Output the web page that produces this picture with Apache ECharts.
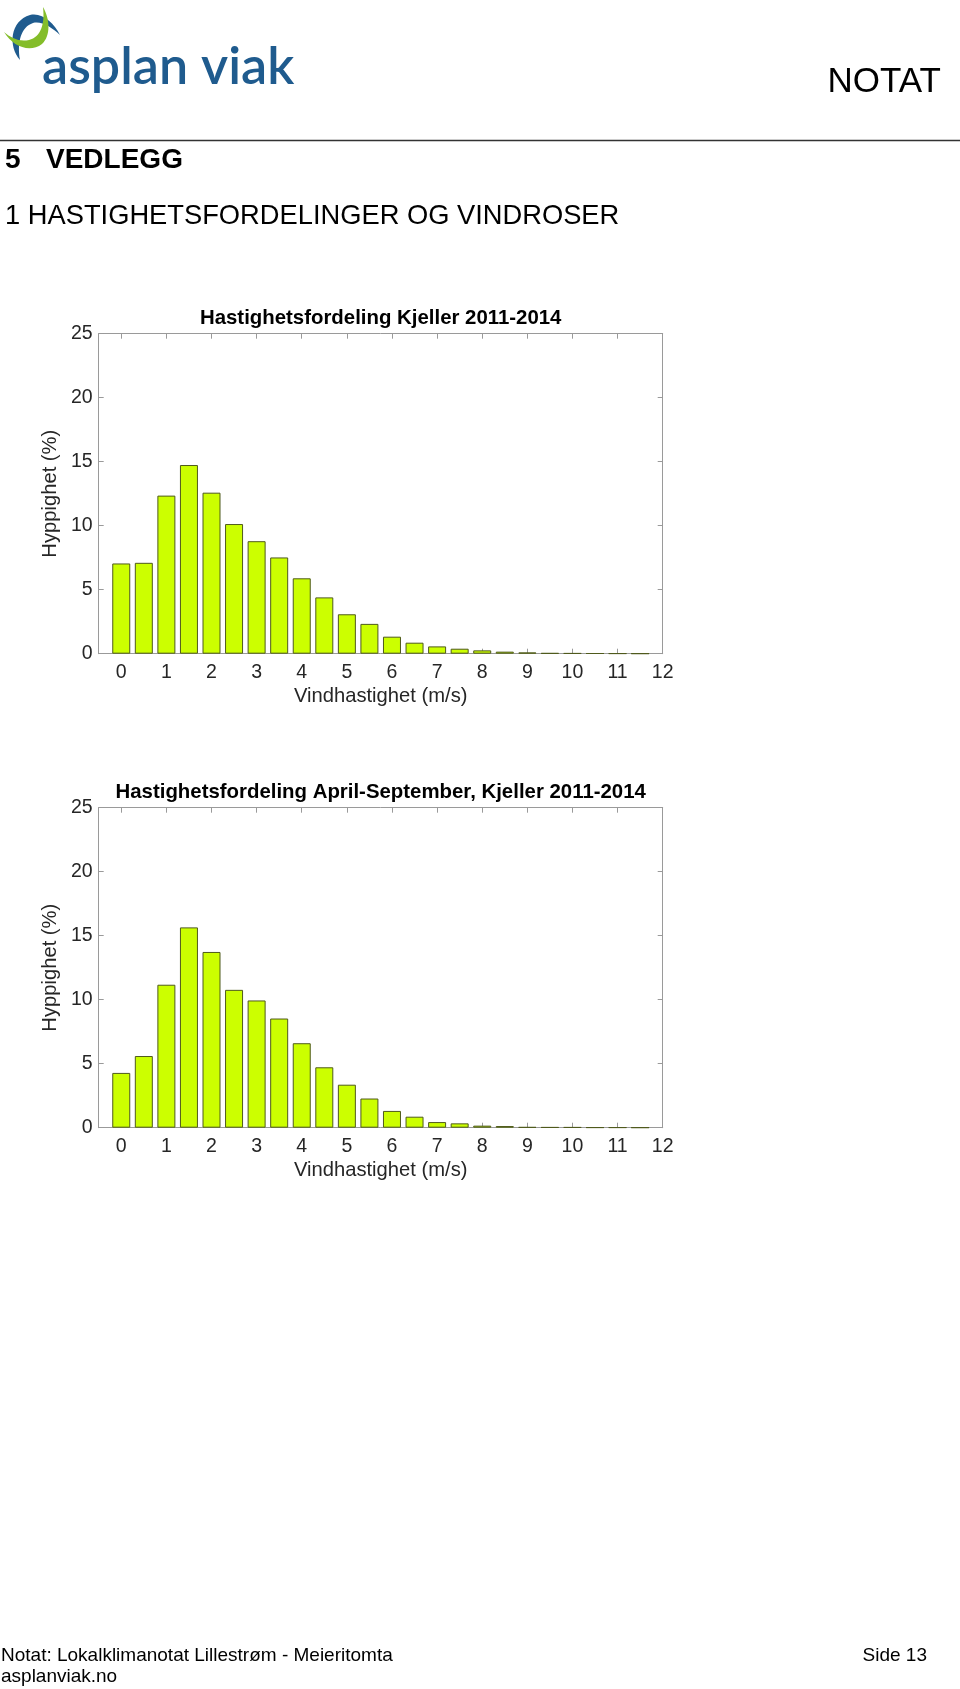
<!DOCTYPE html>
<html>
<head>
<meta charset="utf-8">
<script src="https://cdn.jsdelivr.net/npm/echarts@6/dist/echarts.min.js"></script>
<style>
  html, body { margin: 0; padding: 0; background: #ffffff; }
  #wrap { position: relative; width: 960px; height: 1689px; }
  #page { position: absolute; left: 0; top: 0; width: 960px; height: 1689px; }
  #swoosh { position: absolute; left: 0; top: 0; }
</style>
</head>
<body>
<div id="wrap">
<div id="page"></div>
<svg id="swoosh" width="70" height="70" viewBox="0 0 70 70">
  <path d="M20,60 C8,46 10,21 30,15 C42,12 54,23 60,35 C51,27 42,21 33,23 C21,27 17,42 20,60 Z" fill="#1f5b8e"/>
  <path d="M4,32 C13,47 30,53 42,44 C51,36 50,19 43,7 C45,24 41,37 29,40 C19,42 11,38 4,32 Z" fill="#84bd2a"/>
</svg>
</div>
<script>
// ---- data ----
const speedBins = [0, 0.5, 1, 1.5, 2, 2.5, 3, 3.5, 4, 4.5, 5, 5.5, 6, 6.5, 7, 7.5, 8, 8.5, 9, 9.5, 10, 10.5, 11, 11.5];
const freqAll = [7.05, 7.1, 12.35, 14.74, 12.58, 10.13, 8.79, 7.52, 5.89, 4.40, 3.08, 2.33, 1.33, 0.86, 0.57, 0.39, 0.26, 0.16, 0.10, 0.05, 0.04, 0.03, 0.02, 0.01];
const freqSummer = [4.28, 5.6, 11.17, 15.65, 13.73, 10.77, 9.94, 8.53, 6.6, 4.72, 3.36, 2.28, 1.31, 0.86, 0.44, 0.34, 0.16, 0.13, 0.05, 0.04, 0.04, 0.02, 0.02, 0.01];
const xTicks = [0, 1, 2, 3, 4, 5, 6, 7, 8, 9, 10, 11, 12];
const title1 = 'Hastighetsfordeling Kjeller 2011-2014';
const title2 = 'Hastighetsfordeling April-September, Kjeller 2011-2014';
const xName = 'Vindhastighet (m/s)';
const yName = 'Hyppighet (%)';

// ---- layout ----
const FONT = '"Liberation Sans", Arial, Helvetica, sans-serif';
const plotLeft = 98.7, plotW = 564, plotH = 320;
const plotTops = [333.7, 807.7];
const axisGray = '#9a9a9a';
const labelCol = '#262626';

const chart = echarts.init(document.getElementById('page'), null, { renderer: 'canvas', width: 960, height: 1689 });

const grids = [], xAxes = [], yAxes = [], series = [];
[freqAll, freqSummer].forEach((vals, i) => {
  grids.push({ left: plotLeft, top: plotTops[i], width: plotW, height: plotH, containLabel: false });
  xAxes.push({
    type: 'value', gridIndex: i, min: -0.5, max: 12, position: 'bottom',
    axisLine: { show: true, onZero: false, lineStyle: { color: axisGray, width: 1 } },
    axisTick: { show: true, inside: true, length: 5, customValues: xTicks, lineStyle: { color: axisGray } },
    axisLabel: { show: true, customValues: xTicks, margin: 9, fontSize: 19.5, color: labelCol, fontFamily: FONT },
    splitLine: { show: false },
    name: xName, nameLocation: 'middle', nameGap: 33,
    nameTextStyle: { fontSize: 20.2, color: labelCol, fontFamily: FONT }
  });
  xAxes.push({
    type: 'value', gridIndex: i, min: -0.5, max: 12, position: 'top',
    axisLine: { show: true, onZero: false, lineStyle: { color: axisGray, width: 1 } },
    axisTick: { show: true, inside: true, length: 5, customValues: xTicks, lineStyle: { color: axisGray } },
    axisLabel: { show: false }, splitLine: { show: false }
  });
  yAxes.push({
    type: 'value', gridIndex: i, min: 0, max: 25, interval: 5, position: 'left',
    axisLine: { show: true, onZero: false, lineStyle: { color: axisGray, width: 1 } },
    axisTick: { show: true, inside: true, length: 5, lineStyle: { color: axisGray } },
    axisLabel: { margin: 6, fontSize: 19.5, color: labelCol, fontFamily: FONT },
    splitLine: { show: false },
    name: yName, nameLocation: 'middle', nameGap: 31, nameRotate: 90,
    nameTextStyle: { fontSize: 20.2, color: labelCol, fontFamily: FONT }
  });
  yAxes.push({
    type: 'value', gridIndex: i, min: 0, max: 25, interval: 5, position: 'right',
    axisLine: { show: true, onZero: false, lineStyle: { color: axisGray, width: 1 } },
    axisTick: { show: true, inside: true, length: 5, lineStyle: { color: axisGray } },
    axisLabel: { show: false }, splitLine: { show: false }
  });
  series.push({
    type: 'bar', xAxisIndex: i * 2, yAxisIndex: i * 2,
    data: speedBins.map((s, k) => [s, vals[k]]),
    barWidth: 18,
    itemStyle: { color: '#ccff00', borderColor: '#4f5a1c', borderWidth: 1 },
    emphasis: { disabled: true },
    silent: true
  });
});

const logoBlue = '#1f5b8e';

const graphic = [
  { type: 'text', x: 42, y: 93, style: { text: 'asplan viak', font: '600 52px Lato, "Open Sans", sans-serif', fill: logoBlue, textAlign: 'left', textVerticalAlign: 'bottom' } },
  { type: 'text', x: 941, y: 82, style: { text: 'NOTAT', font: '35px ' + FONT, fill: '#000', textAlign: 'right', textVerticalAlign: 'middle' } },
  { type: 'line', shape: { x1: 0, y1: 140.5, x2: 960, y2: 140.5 }, style: { stroke: '#333', lineWidth: 1.5 } },
  { type: 'text', x: 5, y: 160.5, style: { text: '5', font: 'bold 28px ' + FONT, fill: '#000', textVerticalAlign: 'middle' } },
  { type: 'text', x: 46, y: 160.5, style: { text: 'VEDLEGG', font: 'bold 28px ' + FONT, fill: '#000', textVerticalAlign: 'middle' } },
  { type: 'text', x: 5, y: 216.5, style: { text: '1 HASTIGHETSFORDELINGER OG VINDROSER', font: '27.3px ' + FONT, fill: '#000', textVerticalAlign: 'middle' } },
  { type: 'text', x: plotLeft + plotW / 2, y: 318, style: { text: title1, font: 'bold 20.4px ' + FONT, fill: '#000', textAlign: 'center', textVerticalAlign: 'middle' } },
  { type: 'text', x: plotLeft + plotW / 2, y: 792, style: { text: title2, font: 'bold 20.4px ' + FONT, fill: '#000', textAlign: 'center', textVerticalAlign: 'middle' } },
  { type: 'text', x: 1, y: 1655.5, style: { text: 'Notat: Lokalklimanotat Lillestrøm - Meieritomta', font: '19px ' + FONT, fill: '#000', textVerticalAlign: 'middle' } },
  { type: 'text', x: 1, y: 1677, style: { text: 'asplanviak.no', font: '19px ' + FONT, fill: '#000', textVerticalAlign: 'middle' } },
  { type: 'text', x: 927, y: 1655.5, style: { text: 'Side 13', font: '19px ' + FONT, fill: '#000', textAlign: 'right', textVerticalAlign: 'middle' } }
];

chart.setOption({
  animation: false,
  backgroundColor: '#ffffff',
  grid: grids,
  xAxis: xAxes,
  yAxis: yAxes,
  series: series,
  graphic: graphic
});
</script>
</body>
</html>
